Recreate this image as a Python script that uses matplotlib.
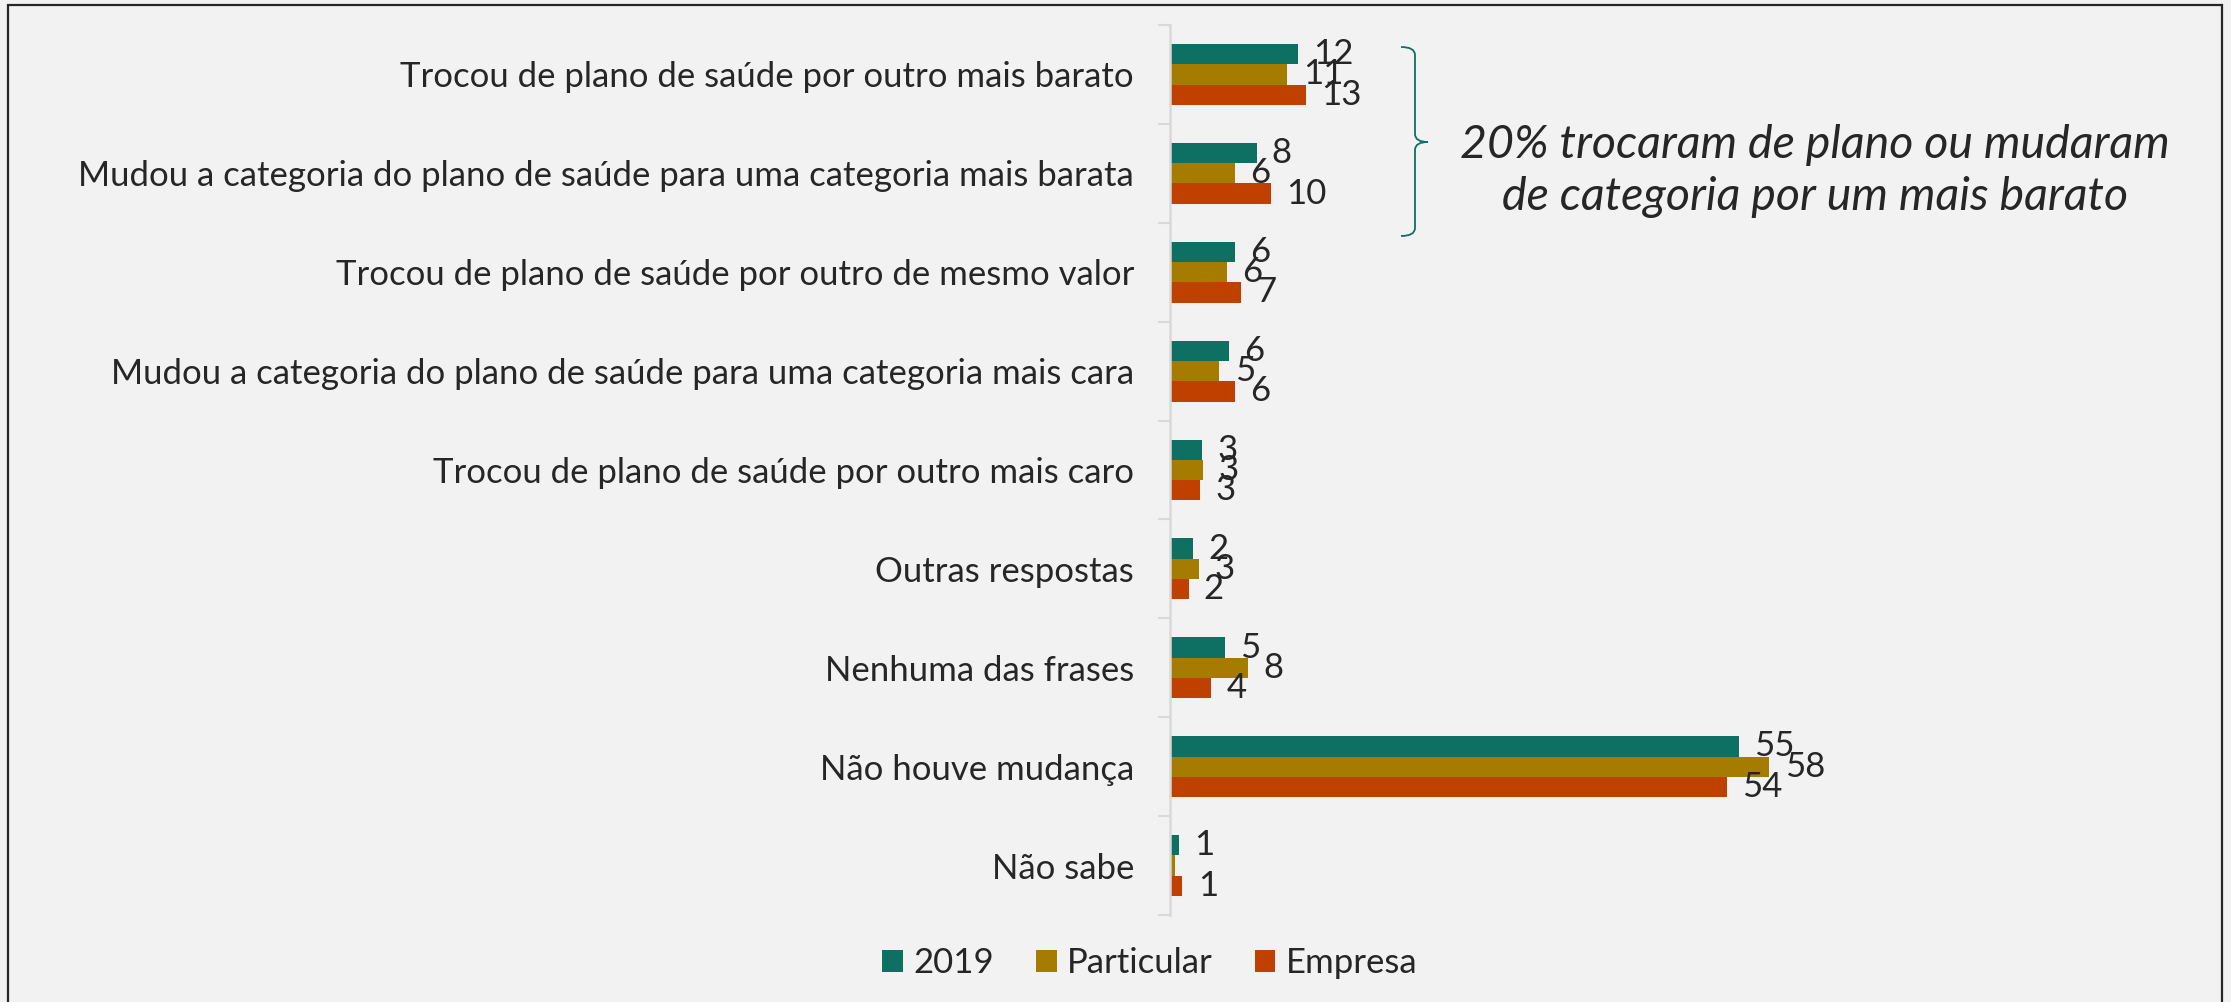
import matplotlib
matplotlib.use("Agg")
import matplotlib.pyplot as plt
from matplotlib.patches import Rectangle, PathPatch
from matplotlib.path import Path
import numpy as np

categories = [
    "Trocou de plano de saúde por outro mais barato",
    "Mudou a categoria do plano de saúde para uma categoria mais barata",
    "Trocou de plano de saúde por outro de mesmo valor",
    "Mudou a categoria do plano de saúde para uma categoria mais cara",
    "Trocou de plano de saúde por outro mais caro",
    "Outras respostas",
    "Nenhuma das frases",
    "Não houve mudança",
    "Não sabe",
]
series_names = ["2019", "Particular", "Empresa"]
vals_2019 = [12.4, 8.4, 6.3, 5.7, 3.1, 2.2, 5.3, 55.2, 0.9]
vals_particular = [11.4, 6.3, 5.5, 4.8, 3.2, 2.8, 7.6, 58.2, 0.5]
vals_empresa = [13.2, 9.8, 6.9, 6.3, 2.9, 1.8, 4.0, 54.1, 1.2]
labels_2019 = ["12", "8", "6", "6", "3", "2", "5", "55", "1"]
labels_particular = ["11", "6", "6", "5", "3", "3", "8", "58", ""]
labels_empresa = ["13", "10", "7", "6", "3", "2", "4", "54", "1"]
annotation = "20% trocaram de plano ou mudaram\nde categoria por um mais barato"

colors = ["#0E7063", "#A67C00", "#C04000"]
bg = "#F2F2F2"
txt = "#262626"
FONT = ["Lato", "DejaVu Sans"]
plt.rcParams["font.family"] = FONT
FS = 25

W, H = 2231, 1002
fig = plt.figure(figsize=(W / 100, H / 100), dpi=100, facecolor=bg)
ax_left = 1170 / W
ax_top = 1 - 25 / H
ax_bot = 1 - 915 / H
xmax = 62
ax_w = xmax * 10.3 / W
ax = fig.add_axes([ax_left, ax_bot, ax_w, ax_top - ax_bot], facecolor=bg)

y = np.arange(len(categories))
bh = 0.205
series = [vals_2019, vals_particular, vals_empresa]
labs = [labels_2019, labels_particular, labels_empresa]
for i, (vals, lab, c, name) in enumerate(zip(series, labs, colors, series_names)):
    yy = y + (i - 1) * bh
    ax.barh(yy, vals, height=bh, color=c, label=name)
    for v, yv, l in zip(vals, yy, lab):
        if l:
            ax.annotate(l, (v, yv), xytext=(11, 0), textcoords="offset points",
                        ha="left", va="center", fontsize=FS, color=txt)

ax.set_xlim(0, xmax)
ax.set_ylim(len(categories) - 0.5, -0.5)
ax.set_yticks(y)
ax.set_yticklabels(categories, fontsize=FS, color=txt)
ax.set_yticks(np.arange(-0.5, len(categories)), minor=True)
ax.tick_params(axis="y", which="major", length=0, pad=26)
ax.tick_params(axis="y", which="minor", length=8.6, width=1.5, color="#D9D9D9", direction="out")
ax.set_xticks([])
for s in ["top", "right", "bottom"]:
    ax.spines[s].set_visible(False)
ax.spines["left"].set_color("#D9D9D9")
ax.spines["left"].set_linewidth(1.8)

leg = fig.legend(loc="center", bbox_to_anchor=(1150 / W, 1 - 963 / H), ncol=3,
                 frameon=False, fontsize=FS, handlelength=0.6, handleheight=0.6,
                 handletextpad=0.3, columnspacing=1.2, labelcolor=txt)

# bracket
def fx(px):
    return px / W

def fy(py):
    return 1 - py / H

xv, xl, xc = 1415, 1401, 1428
yt, ym, yb = 47, 142, 236
r = 8
verts = [
    (xl, yt), (xv, yt), (xv, yt + r),
    (xv, ym - r), (xv, ym), (xc, ym),
    (xv, ym), (xv, ym + r),
    (xv, yb - r), (xv, yb), (xl, yb),
]
codes = [Path.MOVETO, Path.CURVE3, Path.CURVE3,
         Path.LINETO, Path.CURVE3, Path.CURVE3,
         Path.CURVE3, Path.CURVE3,
         Path.LINETO, Path.CURVE3, Path.CURVE3]
path = Path([(fx(a), fy(b)) for a, b in verts], codes)
fig.add_artist(PathPatch(path, transform=fig.transFigure, fill=False,
                         edgecolor=colors[0], linewidth=1.3))

fig.text(1815 / W, 1 - 171 / H, annotation, ha="center", va="center",
         fontsize=33.5, style="italic", color=txt, linespacing=1.3)

fig.add_artist(Rectangle((8 / W, -0.01), (W - 9) / W - 8 / W, 1 - 5 / H + 0.01,
                         transform=fig.transFigure, fill=False,
                         edgecolor="#262626", linewidth=1.6))

fig.savefig("out.png", dpi=100, facecolor=bg)
